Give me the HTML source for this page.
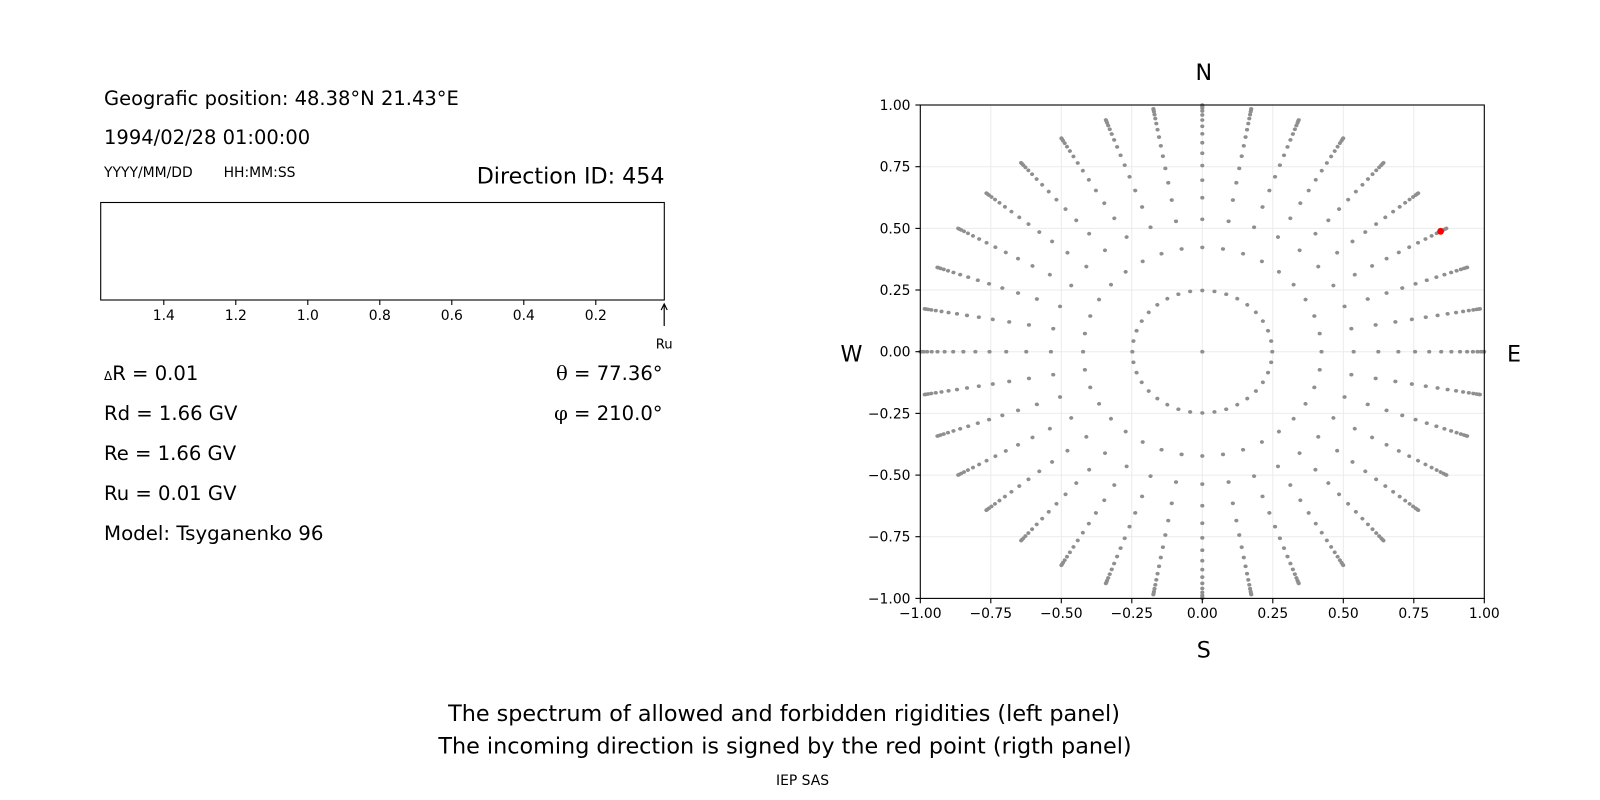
<!DOCTYPE html>
<html>
<head>
<meta charset="utf-8">
<style>
  html,body{margin:0;padding:0;background:#fff;}
  svg{display:block;}
  text{font-family:"DejaVu Sans","Liberation Sans",sans-serif;fill:#000;}
  .serif{font-family:"DejaVu Serif","Liberation Serif",serif;}
</style>
</head>
<body>
<svg xmlns="http://www.w3.org/2000/svg" xmlns:xlink="http://www.w3.org/1999/xlink" width="1600" height="800" viewBox="0 0 1600 800">
  <rect x="0" y="0" width="1600" height="800" fill="#fff"/>

  <!-- ===== LEFT PANEL TEXT ===== -->
  <text x="104" y="105" font-size="19.5">Geografic position: 48.38°N 21.43°E</text>
  <text x="104" y="144" font-size="19.5">1994/02/28 01:00:00</text>
  <text x="104" y="177" font-size="13.9">YYYY/MM/DD</text>
  <text x="223.6" y="177" font-size="13.9">HH:MM:SS</text>
  <text x="664.5" y="183.5" font-size="22.2" text-anchor="end">Direction ID: 454</text>

  <!-- spectrum box -->
  <rect x="100.7" y="202.5" width="563.6" height="97.5" fill="none" stroke="#000" stroke-width="1.1"/>
  <g stroke="#000" stroke-width="1.1">
    <line x1="163.8" y1="300" x2="163.8" y2="305"/>
    <line x1="235.8" y1="300" x2="235.8" y2="305"/>
    <line x1="307.8" y1="300" x2="307.8" y2="305"/>
    <line x1="379.8" y1="300" x2="379.8" y2="305"/>
    <line x1="451.8" y1="300" x2="451.8" y2="305"/>
    <line x1="523.8" y1="300" x2="523.8" y2="305"/>
    <line x1="595.8" y1="300" x2="595.8" y2="305"/>
  </g>
  <g font-size="13.9" text-anchor="middle">
    <text x="163.8" y="320">1.4</text>
    <text x="235.8" y="320">1.2</text>
    <text x="307.8" y="320">1.0</text>
    <text x="379.8" y="320">0.8</text>
    <text x="451.8" y="320">0.6</text>
    <text x="523.8" y="320">0.4</text>
    <text x="595.8" y="320">0.2</text>
  </g>
  <!-- Ru arrow -->
  <g stroke="#000" stroke-width="1.2" fill="none">
    <line x1="664.2" y1="326" x2="664.2" y2="304.5"/>
    <polyline points="661.2,310 664.2,304 667.2,310"/>
  </g>
  <text x="664.2" y="348.5" font-size="13.2" text-anchor="middle">Ru</text>

  <!-- values -->
  <text x="104" y="380" font-size="19.6"><tspan font-size="12">Δ</tspan>R = 0.01</text>
  <text x="104" y="420" font-size="19.6">Rd = 1.66 GV</text>
  <text x="104" y="460" font-size="19.6">Re = 1.66 GV</text>
  <text x="104" y="500" font-size="19.6">Ru = 0.01 GV</text>
  <text x="104" y="540" font-size="19.8">Model: Tsyganenko 96</text>

  <text x="662.6" y="380" font-size="19.6" text-anchor="end"><tspan class="serif">θ</tspan> = 77.36°</text>
  <text x="662.6" y="420" font-size="19.6" text-anchor="end"><tspan class="serif">φ</tspan> = 210.0°</text>

  <!-- ===== RIGHT PANEL ===== -->
  <!-- grid -->
  <g stroke="#ebebeb" stroke-width="1">
    <line x1="990.8" y1="105" x2="990.8" y2="598.4"/>
    <line x1="1061.3" y1="105" x2="1061.3" y2="598.4"/>
    <line x1="1131.8" y1="105" x2="1131.8" y2="598.4"/>
    <line x1="1202.3" y1="105" x2="1202.3" y2="598.4"/>
    <line x1="1272.8" y1="105" x2="1272.8" y2="598.4"/>
    <line x1="1343.3" y1="105" x2="1343.3" y2="598.4"/>
    <line x1="1413.8" y1="105" x2="1413.8" y2="598.4"/>
    <line x1="920.3" y1="166.7" x2="1484.3" y2="166.7"/>
    <line x1="920.3" y1="228.4" x2="1484.3" y2="228.4"/>
    <line x1="920.3" y1="290" x2="1484.3" y2="290"/>
    <line x1="920.3" y1="351.7" x2="1484.3" y2="351.7"/>
    <line x1="920.3" y1="413.4" x2="1484.3" y2="413.4"/>
    <line x1="920.3" y1="475.1" x2="1484.3" y2="475.1"/>
    <line x1="920.3" y1="536.7" x2="1484.3" y2="536.7"/>
  </g>

  <!-- direction points -->
  <defs>
    <g id="ray" fill="#8f8f8f">
      <circle cx="0.24804" cy="0" r="0.0074"/>
      <circle cx="0.42274" cy="0" r="0.0074"/>
      <circle cx="0.53674" cy="0" r="0.0074"/>
      <circle cx="0.62422" cy="0" r="0.0074"/>
      <circle cx="0.69527" cy="0" r="0.0074"/>
      <circle cx="0.75455" cy="0" r="0.0074"/>
      <circle cx="0.80465" cy="0" r="0.0074"/>
      <circle cx="0.84721" cy="0" r="0.0074"/>
      <circle cx="0.88333" cy="0" r="0.0074"/>
      <circle cx="0.91376" cy="0" r="0.0074"/>
      <circle cx="0.93906" cy="0" r="0.0074"/>
      <circle cx="0.95964" cy="0" r="0.0074"/>
      <circle cx="0.97578" cy="0" r="0.0074"/>
      <circle cx="0.98772" cy="0" r="0.0074"/>
      <circle cx="0.99560" cy="0" r="0.0074"/>
      <circle cx="0.99951" cy="0" r="0.0074"/>
    </g>
  </defs>
  <g transform="translate(1202.3,351.7) scale(282,-246.7)">
    <circle cx="0" cy="0" r="0.0074" fill="#8f8f8f"/>
    <use href="#ray" xlink:href="#ray" transform="rotate(0)"/>
    <use href="#ray" xlink:href="#ray" transform="rotate(10)"/>
    <use href="#ray" xlink:href="#ray" transform="rotate(20)"/>
    <use href="#ray" xlink:href="#ray" transform="rotate(30)"/>
    <use href="#ray" xlink:href="#ray" transform="rotate(40)"/>
    <use href="#ray" xlink:href="#ray" transform="rotate(50)"/>
    <use href="#ray" xlink:href="#ray" transform="rotate(60)"/>
    <use href="#ray" xlink:href="#ray" transform="rotate(70)"/>
    <use href="#ray" xlink:href="#ray" transform="rotate(80)"/>
    <use href="#ray" xlink:href="#ray" transform="rotate(90)"/>
    <use href="#ray" xlink:href="#ray" transform="rotate(100)"/>
    <use href="#ray" xlink:href="#ray" transform="rotate(110)"/>
    <use href="#ray" xlink:href="#ray" transform="rotate(120)"/>
    <use href="#ray" xlink:href="#ray" transform="rotate(130)"/>
    <use href="#ray" xlink:href="#ray" transform="rotate(140)"/>
    <use href="#ray" xlink:href="#ray" transform="rotate(150)"/>
    <use href="#ray" xlink:href="#ray" transform="rotate(160)"/>
    <use href="#ray" xlink:href="#ray" transform="rotate(170)"/>
    <use href="#ray" xlink:href="#ray" transform="rotate(180)"/>
    <use href="#ray" xlink:href="#ray" transform="rotate(190)"/>
    <use href="#ray" xlink:href="#ray" transform="rotate(200)"/>
    <use href="#ray" xlink:href="#ray" transform="rotate(210)"/>
    <use href="#ray" xlink:href="#ray" transform="rotate(220)"/>
    <use href="#ray" xlink:href="#ray" transform="rotate(230)"/>
    <use href="#ray" xlink:href="#ray" transform="rotate(240)"/>
    <use href="#ray" xlink:href="#ray" transform="rotate(250)"/>
    <use href="#ray" xlink:href="#ray" transform="rotate(260)"/>
    <use href="#ray" xlink:href="#ray" transform="rotate(270)"/>
    <use href="#ray" xlink:href="#ray" transform="rotate(280)"/>
    <use href="#ray" xlink:href="#ray" transform="rotate(290)"/>
    <use href="#ray" xlink:href="#ray" transform="rotate(300)"/>
    <use href="#ray" xlink:href="#ray" transform="rotate(310)"/>
    <use href="#ray" xlink:href="#ray" transform="rotate(320)"/>
    <use href="#ray" xlink:href="#ray" transform="rotate(330)"/>
    <use href="#ray" xlink:href="#ray" transform="rotate(340)"/>
    <use href="#ray" xlink:href="#ray" transform="rotate(350)"/>
  </g>

  <!-- red point -->
  <circle cx="1440.6" cy="231.3" r="3.4" fill="#ff0000"/>

  <!-- axes frame -->
  <rect x="920.3" y="105" width="564" height="493.4" fill="none" stroke="#000" stroke-width="1.1"/>
  <!-- ticks -->
  <g stroke="#000" stroke-width="1.1">
    <line x1="915.4" y1="105" x2="920.3" y2="105"/>
    <line x1="915.4" y1="166.7" x2="920.3" y2="166.7"/>
    <line x1="915.4" y1="228.4" x2="920.3" y2="228.4"/>
    <line x1="915.4" y1="290" x2="920.3" y2="290"/>
    <line x1="915.4" y1="351.7" x2="920.3" y2="351.7"/>
    <line x1="915.4" y1="413.4" x2="920.3" y2="413.4"/>
    <line x1="915.4" y1="475.1" x2="920.3" y2="475.1"/>
    <line x1="915.4" y1="536.7" x2="920.3" y2="536.7"/>
    <line x1="915.4" y1="598.4" x2="920.3" y2="598.4"/>
    <line x1="920.3" y1="598.4" x2="920.3" y2="603.3"/>
    <line x1="990.8" y1="598.4" x2="990.8" y2="603.3"/>
    <line x1="1061.3" y1="598.4" x2="1061.3" y2="603.3"/>
    <line x1="1131.8" y1="598.4" x2="1131.8" y2="603.3"/>
    <line x1="1202.3" y1="598.4" x2="1202.3" y2="603.3"/>
    <line x1="1272.8" y1="598.4" x2="1272.8" y2="603.3"/>
    <line x1="1343.3" y1="598.4" x2="1343.3" y2="603.3"/>
    <line x1="1413.8" y1="598.4" x2="1413.8" y2="603.3"/>
    <line x1="1484.3" y1="598.4" x2="1484.3" y2="603.3"/>
  </g>
  <g font-size="13.9" text-anchor="end">
    <text x="910.5" y="110">1.00</text>
    <text x="910.5" y="171.7">0.75</text>
    <text x="910.5" y="233.4">0.50</text>
    <text x="910.5" y="295">0.25</text>
    <text x="910.5" y="356.7">0.00</text>
    <text x="910.5" y="418.4">−0.25</text>
    <text x="910.5" y="480.1">−0.50</text>
    <text x="910.5" y="541.7">−0.75</text>
    <text x="910.5" y="603.4">−1.00</text>
  </g>
  <g font-size="13.9" text-anchor="middle">
    <text x="920.3" y="618">−1.00</text>
    <text x="990.8" y="618">−0.75</text>
    <text x="1061.3" y="618">−0.50</text>
    <text x="1131.8" y="618">−0.25</text>
    <text x="1202.3" y="618">0.00</text>
    <text x="1272.8" y="618">0.25</text>
    <text x="1343.3" y="618">0.50</text>
    <text x="1413.8" y="618">0.75</text>
    <text x="1484.3" y="618">1.00</text>
  </g>

  <!-- compass labels -->
  <g font-size="22.2" text-anchor="middle">
    <text x="1203.8" y="80">N</text>
    <text x="1203.8" y="657.5">S</text>
    <text x="851.5" y="361.4">W</text>
    <text x="1514" y="361.4">E</text>
  </g>

  <!-- ===== BOTTOM CAPTIONS ===== -->
  <text x="784" y="721" font-size="22.3" text-anchor="middle">The spectrum of allowed and forbidden rigidities (left panel)</text>
  <text x="785" y="753.5" font-size="22.3" text-anchor="middle">The incoming direction is signed by the red point (rigth panel)</text>
  <text x="802.5" y="785" font-size="13.9" text-anchor="middle">IEP SAS</text>
</svg>
</body>
</html>
